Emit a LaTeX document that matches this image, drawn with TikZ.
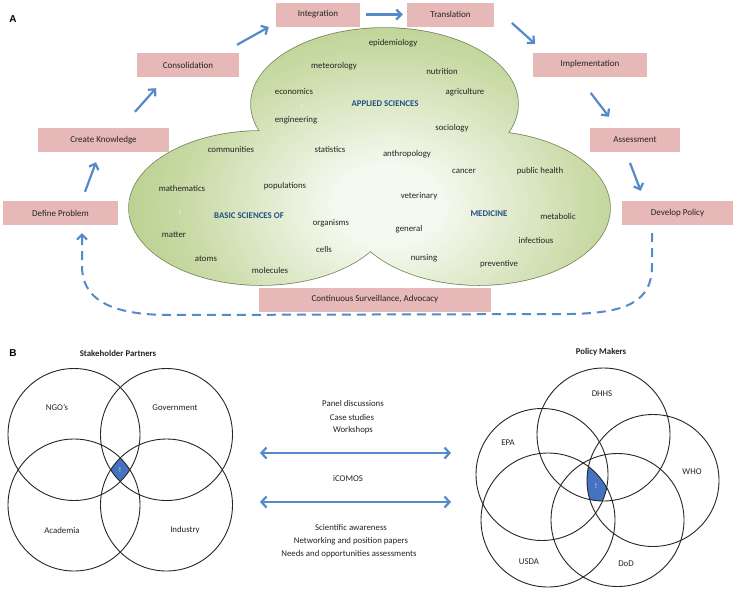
\documentclass[tikz,border=0pt]{standalone}
\usepackage{fontspec}
\setmainfont{Carlito}
\newfontfamily\labfont{Liberation Sans}
\usetikzlibrary{arrows.meta,calc}
\definecolor{boxpink}{RGB}{230,185,184}
\definecolor{arrblue}{RGB}{84,138,201}
\definecolor{vgreen}{RGB}{148,182,82}
\definecolor{vmid}{RGB}{200,218,165}
\definecolor{vlight}{RGB}{246,249,240}
\definecolor{vline}{RGB}{115,130,90}
\definecolor{headblue}{RGB}{36,80,130}
\definecolor{txt}{RGB}{35,35,35}
\definecolor{dblue}{RGB}{70,114,196}
\pgfdeclareradialshading{vennglow}{\pgfpoint{0bp}{0bp}}{color(0bp)=(vlight); color(4bp)=(vlight); color(16bp)=(vmid); color(34bp)=(vgreen); color(50bp)=(vgreen)}
\tikzset{
  stage/.style={fill=boxpink, minimum height=24pt, inner sep=0pt, text=txt, font=\fontsize{9}{10}\selectfont},
  flow/.style={draw=arrblue, line width=2.2pt, -{Straight Barb[length=5pt,width=10pt]}},
  loopback/.style={draw=arrblue, line width=2pt, dash pattern=on 9pt off 6pt, -{Straight Barb[length=5pt,width=10pt]}},
  both/.style={draw=arrblue, line width=2.2pt, {Straight Barb[length=5pt,width=11pt]}-{Straight Barb[length=5pt,width=11pt]}},
  word/.style={inner sep=0pt, text=txt, font=\fontsize{8.8}{10}\selectfont},
  head/.style={inner sep=0pt, text=headblue, font=\bfseries\fontsize{8.8}{10}\selectfont},
  title/.style={inner sep=0pt, text=txt, font=\bfseries\fontsize{8.8}{10}\selectfont},
  bang/.style={inner sep=0pt, text=white, font=\fontsize{7}{8}\selectfont},
  panel/.style={inner sep=0pt, text=black, font=\labfont\bfseries\fontsize{10}{12}\selectfont},
  vcirc/.style={draw=black!85, line width=0.9pt},
}
\begin{document}
\begin{tikzpicture}[x=1pt,y=-1pt]
\useasboundingbox (0,0) rectangle (736,590);
\fill[white] (0,0) rectangle (736,590);

% ---------- Part A: overlapping ellipses ----------
\draw[vline, line width=1.5pt]
  (384.5,104) ellipse [x radius=133.5pt, y radius=76pt]
  (261,208) ellipse [x radius=132pt, y radius=77pt]
  (479,208) ellipse [x radius=131pt, y radius=77pt];
\begin{scope}
  \clip (384.5,104) ellipse [x radius=133.5pt, y radius=76pt]
        (261,208) ellipse [x radius=132pt, y radius=77pt]
        (479,208) ellipse [x radius=131pt, y radius=77pt];
  \shade[shading=vennglow] (388,205) ellipse [x radius=320pt, y radius=240pt];
\end{scope}

\node[head] (hApplied) at (385,104) {APPLIED SCIENCES};
\node[head] (hBasic) at (249,216) {BASIC SCIENCES OF};
\node[head] (hMed) at (489,214) {MEDICINE};
\node[bang] (b1) at (302,107) {!};
\node[bang] (b2) at (180,212) {!};
\node[bang] (b3) at (399,211) {!};

\node[word] (w1) at (393,43) {epidemiology};
\node[word] (w2) at (334,66) {meteorology};
\node[word] (w3) at (442,71) {nutrition};
\node[word] (w4) at (294,92) {economics};
\node[word] (w5) at (465,92) {agriculture};
\node[word] (w6) at (296,120) {engineering};
\node[word] (w7) at (452,128) {sociology};
\node[word] (w8) at (330,149) {statistics};
\node[word] (w9) at (407,154) {anthropology};
\node[word] (w10) at (231,149) {communities};
\node[word] (w11) at (182,188) {mathematics};
\node[word] (w12) at (285,186) {populations};
\node[word] (w13) at (331,223) {organisms};
\node[word] (w14) at (174,235) {matter};
\node[word] (w15) at (324,249) {cells};
\node[word] (w16) at (206,259) {atoms};
\node[word] (w17) at (270,270) {molecules};
\node[word] (w18) at (464,171) {cancer};
\node[word] (w19) at (540,171) {public health};
\node[word] (w20) at (419,196) {veterinary};
\node[word] (w21) at (558,216) {metabolic};
\node[word] (w22) at (409,229) {general};
\node[word] (w23) at (536,240) {infectious};
\node[word] (w24) at (424,258) {nursing};
\node[word] (w25) at (499,264) {preventive};

% ---------- Part A: stages ----------
\node[panel] (lblA) at (13,19) {A};
\node[stage, minimum width=84pt] (integ) at (318,14.5) {Integration};
\node[stage, minimum width=87pt] (transl) at (450.5,14.5) {Translation};
\node[stage, minimum width=102pt] (consol) at (188,65) {Consolidation};
\node[stage, minimum width=114pt] (impl) at (590,64.5) {Implementation};
\node[stage, minimum width=131pt] (create) at (103.5,140) {Create Knowledge};
\node[stage, minimum width=90pt] (assess) at (635,140) {Assessment};
\node[stage, minimum width=115pt] (define) at (60.5,213) {Define Problem};
\node[stage, minimum width=111pt] (develop) at (677.5,213) {Develop Policy};
\node[stage, minimum width=232pt] (surv) at (375,299.5) {Continuous Surveillance, Advocacy};

\draw[flow] ($(define.north)+(24.5,-9)$) -- ($(create.south)+(-7.5,10)$);
\draw[flow] ($(create.north)+(31.5,-16)$) -- ($(consol.south)+(-32,11)$);
\draw[flow] ($(consol.north)+(49,-8)$) -- ($(integ.west)+(-7,12.5)$);
\draw[flow] ($(integ.east)+(6,0)$) -- ($(transl.west)+(-4,0)$);
\draw[flow] ($(transl.east)+(17.7,8.5)$) -- ($(impl.north)+(-55,-8.5)$);
\draw[flow] ($(impl.south)+(0.7,16.2)$) -- ($(assess.north)+(-26,-11)$);
\draw[flow] ($(assess.south)+(-5,10.7)$) -- ($(develop.north)+(-36.8,-10)$);

\draw[loopback] ($(develop.south)+(-25.5,8)$) -- (652,266)
  .. controls (652,302) and (626,313) .. (570,314) -- (170,315)
  .. controls (108,315) and (82,298) .. (82,266) -- ($(define.south)+(21.5,8)$);

% ---------- Part B ----------
\node[panel] (lblB) at (13,353) {B};
\node[title] (tStake) at (118,353) {Stakeholder Partners};
\node[title] (tPolicy) at (601,352) {Policy Makers};

\begin{scope}
  \clip (74,434.5) circle [radius=66pt];
  \clip (166.5,434.5) circle [radius=66pt];
  \clip (74,505) circle [radius=66pt];
  \fill[dblue] (166.5,505) circle [radius=66pt];
\end{scope}
\draw[vcirc] (74,434.5) circle [radius=66pt];
\draw[vcirc] (166.5,434.5) circle [radius=66pt];
\draw[vcirc] (74,505) circle [radius=66pt];
\draw[vcirc] (166.5,505) circle [radius=66pt];
\node[bang] (b4) at (120,470) {!};
\node[word] (sNgo) at (57,407) {NGO’s};
\node[word] (sGov) at (175,408) {Government};
\node[word] (sAca) at (62,530) {Academia};
\node[word] (sInd) at (185,530) {Industry};

\begin{scope}
  \clip (603.5,434.5) circle [radius=66.5pt];
  \clip (542,474.5) circle [radius=66pt];
  \clip (653,480.5) circle [radius=66pt];
  \clip (548,520) circle [radius=67pt];
  \fill[dblue] (617.5,520) circle [radius=66.5pt];
\end{scope}
\draw[vcirc] (603.5,434.5) circle [radius=66.5pt];
\draw[vcirc] (542,474.5) circle [radius=66pt];
\draw[vcirc] (653,480.5) circle [radius=66pt];
\draw[vcirc] (548,520) circle [radius=67pt];
\draw[vcirc] (617.5,520) circle [radius=66.5pt];
\node[bang] (b5) at (596,486) {!};
\node[word] (pDhhs) at (602,394) {DHHS};
\node[word] (pEpa) at (508,443) {EPA};
\node[word] (pWho) at (692,472) {WHO};
\node[word] (pUsda) at (529,562) {USDA};
\node[word] (pDod) at (626,564) {DoD};

\node[word] (m1) at (353,403) {Panel discussions};
\node[word] (m2) at (352,417) {Case studies};
\node[word] (m3) at (353,430) {Workshops};
\node[word] (m4) at (348,478) {iCOMOS};
\node[word] (m5) at (351,527) {Scientific awareness};
\node[word] (m6) at (351,541) {Networking and position papers};
\node[word] (m7) at (349,554) {Needs and opportunities assessments};

\coordinate (arL1) at (260,453);
\coordinate (arR1) at (451,453);
\coordinate (arL2) at (260,502);
\coordinate (arR2) at (451,502);
\draw[both] (arL1) -- (arR1);
\draw[both] (arL2) -- (arR2);
\end{tikzpicture}
\end{document}
